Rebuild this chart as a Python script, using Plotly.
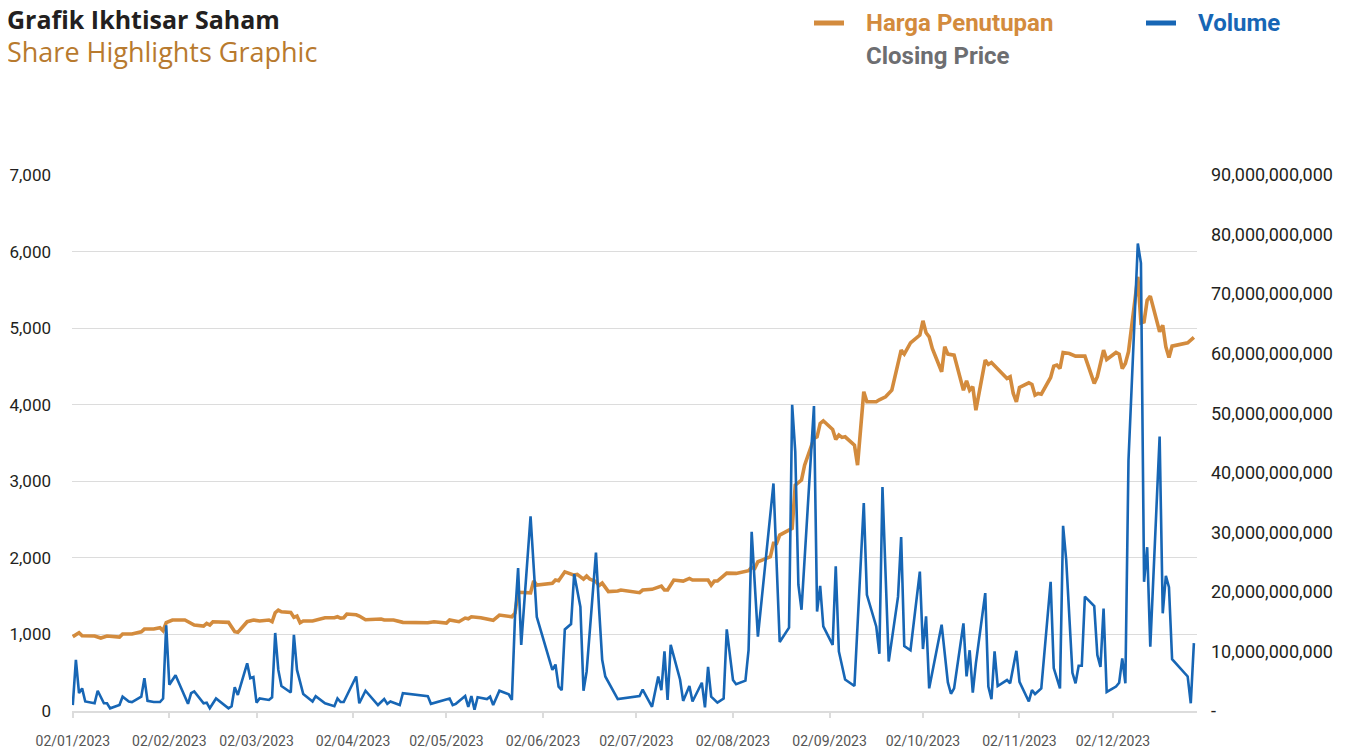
import plotly.graph_objects as go

# ---------------- data ----------------
price_dates = [
    "2023-01-02","2023-01-04","2023-01-05","2023-01-09","2023-01-11","2023-01-13","2023-01-17","2023-01-18",
    "2023-01-21","2023-01-24","2023-01-25","2023-01-28","2023-01-30","2023-01-31","2023-02-01","2023-02-03",
    "2023-02-07","2023-02-08","2023-02-10","2023-02-13","2023-02-14","2023-02-15","2023-02-16","2023-02-21",
    "2023-02-22","2023-02-23","2023-02-24","2023-02-27","2023-03-01","2023-03-03","2023-03-06","2023-03-07",
    "2023-03-08","2023-03-09","2023-03-10","2023-03-13","2023-03-14","2023-03-15","2023-03-16","2023-03-17",
    "2023-03-20","2023-03-24","2023-03-27","2023-03-28","2023-03-29","2023-03-30","2023-03-31","2023-04-03",
    "2023-04-04","2023-04-06","2023-04-11","2023-04-12","2023-04-15","2023-04-18","2023-04-26","2023-04-28",
    "2023-05-02","2023-05-03","2023-05-06","2023-05-08","2023-05-09","2023-05-10","2023-05-13","2023-05-17",
    "2023-05-19","2023-05-23","2023-05-24","2023-05-25","2023-05-29","2023-05-30","2023-05-31","2023-06-05",
    "2023-06-06","2023-06-07","2023-06-09","2023-06-12","2023-06-13","2023-06-15","2023-06-16","2023-06-17",
    "2023-06-19","2023-06-20","2023-06-21","2023-06-23","2023-06-26","2023-06-27","2023-07-03","2023-07-04",
    "2023-07-07","2023-07-10","2023-07-11","2023-07-12","2023-07-14","2023-07-17","2023-07-19","2023-07-20",
    "2023-07-25","2023-07-26","2023-07-27","2023-07-28","2023-07-31","2023-08-03","2023-08-07","2023-08-08",
    "2023-08-09","2023-08-10","2023-08-14","2023-08-15","2023-08-16","2023-08-17","2023-08-21","2023-08-22",
    "2023-08-24","2023-08-25","2023-08-28","2023-08-29","2023-08-30","2023-08-31","2023-09-03","2023-09-04",
    "2023-09-05","2023-09-06","2023-09-07","2023-09-09","2023-09-10","2023-09-11","2023-09-13","2023-09-14",
    "2023-09-17","2023-09-18","2023-09-20","2023-09-22","2023-09-25","2023-09-26","2023-09-28","2023-10-01",
    "2023-10-02","2023-10-03","2023-10-04","2023-10-05","2023-10-08","2023-10-09","2023-10-10","2023-10-12",
    "2023-10-15","2023-10-16","2023-10-17","2023-10-18","2023-10-19","2023-10-22","2023-10-23","2023-10-24",
    "2023-10-26","2023-10-29","2023-10-30","2023-10-31","2023-11-01","2023-11-02","2023-11-05","2023-11-06",
    "2023-11-07","2023-11-08","2023-11-09","2023-11-12","2023-11-13","2023-11-14","2023-11-15","2023-11-16",
    "2023-11-18","2023-11-20","2023-11-23","2023-11-26","2023-11-27","2023-11-29","2023-11-30","2023-12-03",
    "2023-12-04","2023-12-05","2023-12-06","2023-12-07","2023-12-10","2023-12-11","2023-12-12","2023-12-13",
    "2023-12-14","2023-12-17","2023-12-18","2023-12-19","2023-12-20","2023-12-21","2023-12-26","2023-12-28",
]
closing_price = [
    970, 1022, 983, 979, 953, 979, 966, 1005,
    1005, 1035, 1070, 1070, 1087, 1048, 1153, 1188,
    1188, 1166, 1123, 1110, 1144, 1123, 1166, 1158,
    1101, 1035, 1027, 1166, 1188, 1175, 1188, 1166,
    1283, 1318, 1296, 1288, 1223, 1240, 1153, 1175,
    1175, 1218, 1218, 1231, 1214, 1218, 1266, 1257,
    1240, 1192, 1201, 1188, 1188, 1158, 1153, 1166,
    1149, 1188, 1166, 1214, 1205, 1231, 1218, 1185,
    1253, 1231, 1279, 1550, 1543, 1700, 1645, 1667,
    1710, 1701, 1818, 1775, 1784, 1723, 1762, 1723,
    1690, 1640, 1670, 1560, 1567, 1580, 1545, 1580,
    1589, 1632, 1580, 1580, 1710, 1697, 1732, 1710,
    1710, 1645, 1697, 1697, 1800, 1797, 1832, 1875,
    1862, 1949, 2014, 2189, 2189, 2298, 2385, 2950,
    3016, 3211, 3560, 3581, 3756, 3790, 3677, 3547,
    3603, 3573, 3581, 3516, 3473, 3211, 4169, 4038,
    4038, 4064, 4103, 4190, 4713, 4661, 4808, 4909,
    5096, 4939, 4886, 4734, 4430, 4756, 4661, 4648,
    4190, 4312, 4190, 4234, 3929, 4582, 4526, 4552,
    4473, 4343, 4365, 4147, 4038, 4225, 4286, 4265,
    4125, 4147, 4138, 4356, 4504, 4517, 4473, 4682,
    4669, 4634, 4634, 4278, 4365, 4713, 4591, 4682,
    4661, 4473, 4539, 4691, 5670, 5070, 5083, 5366,
    5418, 4952, 5039, 4756, 4617, 4765, 4808, 4878,
]

volume_dates = [
    "2023-01-02","2023-01-03","2023-01-04","2023-01-05","2023-01-06","2023-01-09","2023-01-10","2023-01-12",
    "2023-01-13","2023-01-14","2023-01-17","2023-01-18","2023-01-20","2023-01-21","2023-01-24","2023-01-25",
    "2023-01-26","2023-01-28","2023-01-30","2023-01-31","2023-02-01","2023-02-02","2023-02-04","2023-02-08",
    "2023-02-09","2023-02-10","2023-02-13","2023-02-14","2023-02-15","2023-02-17","2023-02-21","2023-02-22",
    "2023-02-23","2023-02-24","2023-02-27","2023-02-28","2023-03-01","2023-03-02","2023-03-03","2023-03-06",
    "2023-03-07","2023-03-08","2023-03-09","2023-03-10","2023-03-13","2023-03-14","2023-03-15","2023-03-17",
    "2023-03-20","2023-03-21","2023-03-24","2023-03-27","2023-03-28","2023-03-29","2023-03-30","2023-04-03",
    "2023-04-04","2023-04-06","2023-04-10","2023-04-12","2023-04-13","2023-04-14","2023-04-17","2023-04-18",
    "2023-04-26","2023-04-27","2023-05-03","2023-05-04","2023-05-05","2023-05-08","2023-05-09","2023-05-10",
    "2023-05-11","2023-05-12","2023-05-15","2023-05-16","2023-05-17","2023-05-19","2023-05-22","2023-05-23",
    "2023-05-24","2023-05-25","2023-05-26","2023-05-29","2023-05-31","2023-06-05","2023-06-06","2023-06-07",
    "2023-06-08","2023-06-09","2023-06-11","2023-06-12","2023-06-14","2023-06-15","2023-06-16","2023-06-19",
    "2023-06-20","2023-06-21","2023-06-22","2023-06-26","2023-07-03","2023-07-04","2023-07-07","2023-07-09",
    "2023-07-10","2023-07-11","2023-07-12","2023-07-13","2023-07-16","2023-07-17","2023-07-19","2023-07-20",
    "2023-07-23","2023-07-24","2023-07-25","2023-07-26","2023-07-28","2023-07-30","2023-07-31","2023-08-02",
    "2023-08-03","2023-08-06","2023-08-07","2023-08-08","2023-08-10","2023-08-15","2023-08-17","2023-08-20",
    "2023-08-21","2023-08-22","2023-08-23","2023-08-24","2023-08-28","2023-08-29","2023-08-30","2023-08-31",
    "2023-09-03","2023-09-04","2023-09-05","2023-09-07","2023-09-10","2023-09-13","2023-09-14","2023-09-17",
    "2023-09-18","2023-09-19","2023-09-21","2023-09-24","2023-09-25","2023-09-26","2023-09-28","2023-10-01",
    "2023-10-02","2023-10-03","2023-10-04","2023-10-08","2023-10-10","2023-10-11","2023-10-12","2023-10-15",
    "2023-10-16","2023-10-17","2023-10-18","2023-10-19","2023-10-22","2023-10-23","2023-10-24","2023-10-25",
    "2023-10-26","2023-10-29","2023-10-30","2023-11-01","2023-11-02","2023-11-05","2023-11-06","2023-11-07",
    "2023-11-09","2023-11-12","2023-11-13","2023-11-15","2023-11-16","2023-11-17","2023-11-19","2023-11-20",
    "2023-11-21","2023-11-22","2023-11-23","2023-11-26","2023-11-27","2023-11-28","2023-11-29","2023-11-30",
    "2023-12-03","2023-12-04","2023-12-05","2023-12-06","2023-12-07","2023-12-10","2023-12-11","2023-12-12",
    "2023-12-13","2023-12-14","2023-12-17","2023-12-18","2023-12-19","2023-12-20","2023-12-21","2023-12-26",
    "2023-12-27","2023-12-28",
]
# volume in billions of shares
volume_bn = [
    1.0, 8.6, 3.0, 3.8, 1.6, 1.3, 3.4, 1.3,
    1.3, 0.45, 1.0, 2.4, 1.6, 1.5, 2.4, 5.5,
    1.7, 1.5, 1.5, 2.1, 14.4, 4.4, 6.0, 1.2,
    3.0, 3.3, 1.3, 1.4, 0.45, 2.1, 0.45, 0.8,
    4.0, 2.7, 8.0, 5.5, 5.7, 1.4, 2.1, 1.85,
    2.3, 13.1, 6.9, 4.2, 3.1, 12.8, 6.9, 2.85,
    1.6, 2.5, 1.3, 0.8, 2.1, 1.5, 1.5, 5.8,
    1.3, 3.4, 1.0, 2.0, 1.2, 1.6, 1.0, 3.0,
    2.5, 1.2, 2.1, 1.0, 1.2, 2.5, 0.7, 2.5,
    0.2, 2.3, 2.0, 2.4, 1.0, 3.4, 2.8, 1.85,
    15.8, 24.0, 11.1, 32.7, 15.8, 6.9, 7.8, 4.1,
    3.5, 13.7, 14.6, 23.0, 17.5, 3.4, 6.6, 26.6,
    17.2, 8.6, 5.8, 2.0, 2.5, 3.6, 0.7, 5.8,
    3.5, 10.0, 1.85, 11.1, 5.3, 1.7, 4.2, 1.6,
    4.75, 0.6, 7.4, 2.4, 1.4, 2.1, 13.7, 5.2,
    4.5, 5.1, 10.2, 30.1, 12.5, 38.2, 11.6, 14.0,
    51.4, 43.5, 21.2, 17.0, 51.2, 16.7, 21.0, 14.2,
    11.1, 24.3, 10.0, 5.3, 4.2, 34.9, 19.5, 14.2,
    9.6, 37.6, 8.3, 19.2, 29.2, 10.9, 10.2, 23.4,
    10.4, 15.9, 3.8, 14.5, 4.8, 2.9, 3.8, 14.7,
    5.8, 10.2, 3.1, 8.0, 19.8, 4.1, 2.0, 10.0,
    4.2, 5.2, 4.65, 10.1, 4.9, 1.6, 3.5, 2.85,
    3.8, 21.7, 7.2, 3.8, 31.1, 25.4, 6.4, 4.65,
    7.6, 7.6, 19.2, 17.6, 9.4, 7.4, 17.2, 3.2,
    4.1, 4.75, 8.85, 4.65, 42.1, 78.5, 75.2, 21.7,
    27.5, 10.8, 46.1, 16.4, 22.7, 20.8, 8.7, 5.8,
    1.3, 11.4,
]

x_tick_vals = ["2023-01-02","2023-02-02","2023-03-02","2023-04-02","2023-05-02","2023-06-02",
               "2023-07-02","2023-08-02","2023-09-02","2023-10-02","2023-11-02","2023-12-02"]
x_tick_text = ["02/01/2023","02/02/2023","02/03/2023","02/04/2023","02/05/2023","02/06/2023",
               "02/07/2023","02/08/2023","02/09/2023","02/10/2023","02/11/2023","02/12/2023"]
price_ticks = [0, 1000, 2000, 3000, 4000, 5000, 6000, 7000]
price_tick_text = ["0", "1,000", "2,000", "3,000", "4,000", "5,000", "6,000", "7,000"]
volume_ticks = [0, 10e9, 20e9, 30e9, 40e9, 50e9, 60e9, 70e9, 80e9, 90e9]
volume_tick_text = ["-", "10,000,000,000", "20,000,000,000", "30,000,000,000", "40,000,000,000",
                    "50,000,000,000", "60,000,000,000", "70,000,000,000", "80,000,000,000",
                    "90,000,000,000"]

title_id = "Grafik Ikhtisar Saham"
title_en = "Share Highlights Graphic"
legend_price_id = "Harga Penutupan"
legend_price_en = "Closing Price"
legend_volume = "Volume"

# ---------------- styles ----------------
ORANGE = "#D38B3D"
BLUE = "#1766B5"
GOLD = "#B87A2E"
GRID = "#DCDCDC"
FONT = "Roboto"

# the page body adds an 8px offset; figure is sized so that screen positions match
OFF = 8
W, H = 1345 - OFF, 749 - OFF
PLOT_X0, PLOT_X1, PLOT_Y0, PLOT_Y1 = 72, 1197, 175, 711   # screen pixels
L = PLOT_X0 - OFF
R = W - (PLOT_X1 - OFF)
T = PLOT_Y0 - OFF
B = H - (PLOT_Y1 - OFF)
pw, ph = W - L - R, H - T - B

def px(x):
    return (x - PLOT_X0) / pw

def py(y):
    return (PLOT_Y1 - y) / ph

fig = go.Figure()
fig.add_trace(go.Scatter(
    x=price_dates, y=closing_price, mode="lines", name=legend_price_id,
    line=dict(color=ORANGE, width=3.6), yaxis="y", showlegend=False,
))
fig.add_trace(go.Scatter(
    x=volume_dates, y=[v * 1e9 for v in volume_bn], mode="lines", name=legend_volume,
    line=dict(color=BLUE, width=2.6), yaxis="y2", showlegend=False,
))

fig.update_layout(
    width=W, height=H,
    margin=dict(l=L, r=R, t=T, b=B, pad=0, autoexpand=False),
    paper_bgcolor="white", plot_bgcolor="white",
    font=dict(family=FONT, color="#231F20"),
    xaxis=dict(
        type="date", range=["2023-01-01 18:00", "2023-12-29"], automargin=False,
        tickmode="array", tickvals=x_tick_vals, ticktext=x_tick_text,
        showgrid=False, showline=True, linecolor=GRID, linewidth=1.5,
        ticks="outside", ticklen=5, tickcolor=GRID, tickwidth=1.5,
        tickfont=dict(size=14, color="#555555", family=FONT),
        ticklabelstandoff=11, zeroline=False,
    ),
    yaxis=dict(
        range=[0, 7000], tickmode="array", tickvals=price_ticks, ticktext=price_tick_text,
        automargin=False,
        showgrid=True, gridcolor=GRID, gridwidth=1, zeroline=False, showline=False,
        tickfont=dict(size=17, color="#231F20", family=FONT), ticklabelstandoff=20,
    ),
    yaxis2=dict(
        range=[0, 90e9], overlaying="y", side="right", tickmode="array",
        tickvals=volume_ticks, ticktext=volume_tick_text, automargin=False,
        showgrid=False, zeroline=False, showline=False,
        tickfont=dict(size=18, color="#231F20", family=FONT), ticklabelstandoff=13,
    ),
    showlegend=False,
)

annotations = [
    dict(text="<b>" + title_id + "</b>", x=px(5), y=py(19), font=dict(size=25, color="#231F20", family="Open Sans")),
    dict(text=title_en, x=px(5), y=py(51), font=dict(size=27, color=GOLD, family="Open Sans")),
    dict(text="<b>" + legend_price_id + "</b>", x=px(864), y=py(23), font=dict(size=24, color=ORANGE, family=FONT)),
    dict(text="<b>" + legend_price_en + "</b>", x=px(864), y=py(56), font=dict(size=24, color="#6D6E71", family=FONT)),
    dict(text="<b>" + legend_volume + "</b>", x=px(1196), y=py(23), font=dict(size=24, color=BLUE, family=FONT)),
]
for a in annotations:
    a.update(xref="paper", yref="paper", xanchor="left", yanchor="middle", showarrow=False)
fig.update_layout(annotations=annotations)

fig.add_shape(type="line", xref="paper", yref="paper", x0=px(814), x1=px(844), y0=py(23), y1=py(23),
              line=dict(color=ORANGE, width=5))
fig.add_shape(type="line", xref="paper", yref="paper", x0=px(1146), x1=px(1176), y0=py(23), y1=py(23),
              line=dict(color=BLUE, width=5))

fig.write_html("out.html")
